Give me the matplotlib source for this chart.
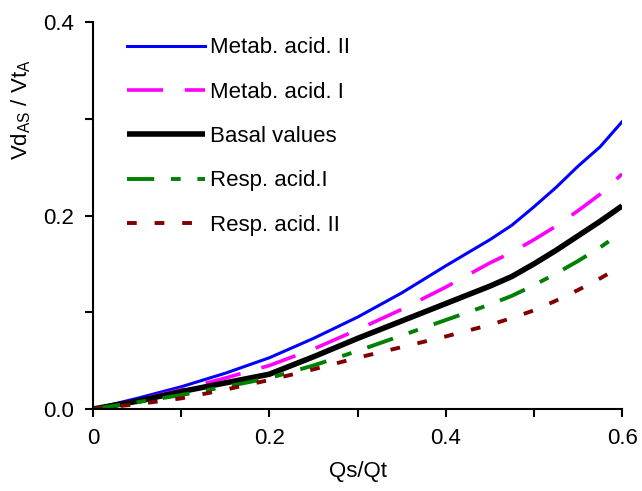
import numpy as np
import matplotlib
matplotlib.use("Agg")
import matplotlib.pyplot as plt

plt.rcParams['font.family'] = ['Liberation Sans', 'DejaVu Sans']

qs_qt = [0, 0.05, 0.1, 0.15, 0.2, 0.25, 0.3, 0.35, 0.4, 0.45, 0.475, 0.5, 0.525, 0.55, 0.575, 0.6]

metab_acid_2 = [0, 0.011, 0.023, 0.037, 0.053, 0.073, 0.095, 0.12, 0.148, 0.175, 0.19, 0.209, 0.229, 0.251, 0.271, 0.297]
metab_acid_1 = [0, 0.009, 0.020, 0.032, 0.045, 0.062, 0.082, 0.103, 0.126, 0.151, 0.162, 0.175, 0.189, 0.205, 0.222, 0.243]
basal = [0, 0.008, 0.018, 0.027, 0.036, 0.054, 0.073, 0.091, 0.109, 0.127, 0.137, 0.150, 0.164, 0.179, 0.194, 0.21]
resp_acid_1 = [0, 0.007, 0.0145, 0.023, 0.032, 0.045, 0.060, 0.076, 0.092, 0.108, 0.117, 0.128, 0.140, 0.153, 0.167, 0.183]
resp_acid_2 = [0, 0.005, 0.011, 0.020, 0.030, 0.041, 0.053, 0.064, 0.075, 0.087, 0.094, 0.102, 0.112, 0.123, 0.135, 0.148]

fig = plt.figure(figsize=(6.42, 4.91), dpi=100)
ax = fig.add_axes([0.145, 0.167, 0.824, 0.788])

ax.plot(qs_qt, metab_acid_2, color="#0000ff", lw=2.2, label="Metab. acid. II")
ax.plot(qs_qt, metab_acid_1, color="#ff00ff", lw=2.6, dashes=(10, 6), label="Metab. acid. I")
ax.plot(qs_qt, basal, color="black", lw=4.0, solid_capstyle="butt", label="Basal values")
ax.plot(qs_qt, resp_acid_1, color="#008000", lw=2.8, dashes=(7, 4.3, 2.5, 4.3), label="Resp. acid.I")
ax.plot(qs_qt, resp_acid_2, color="#800000", lw=2.8, dashes=(2.5, 4.6), label="Resp. acid. II")

ax.set_xlim(0, 0.6)
ax.set_ylim(0, 0.4)
ax.set_xticks(np.arange(0, 0.61, 0.1))
ax.set_xticklabels(["0", "", "0.2", "", "0.4", "", "0.6"])
ax.set_yticks(np.arange(0, 0.41, 0.1))
ax.set_yticklabels(["0.0", "", "0.2", "", "0.4"])
ax.tick_params(direction="out", length=6, width=1.5, labelsize=16, pad=8)
for side in ["top", "right"]:
    ax.spines[side].set_visible(False)
for side in ["left", "bottom"]:
    ax.spines[side].set_linewidth(1.5)

ax.set_xlabel("Qs/Qt", fontsize=16, labelpad=8)
ax.set_ylabel(r"Vd$_{\mathregular{AS}}$ / Vt$_{\mathregular{A}}$", fontsize=16)
ax.yaxis.set_label_coords(-0.113, 0.775)

ax.legend(loc="upper left", bbox_to_anchor=(0.027, 1.012), frameon=False, fontsize=16,
          handlelength=3.5, handletextpad=0.2, labelspacing=1.05)

fig.savefig("out.png", dpi=100)
